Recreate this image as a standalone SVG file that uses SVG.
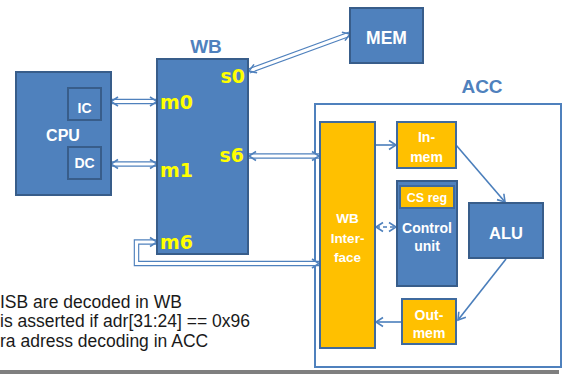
<svg xmlns="http://www.w3.org/2000/svg" width="563" height="374" viewBox="0 0 563 374">
<style>
.blue{fill:#4F81BD;stroke:#385D8A;stroke-width:2}
.org{fill:#FFC000;stroke:#3F6A9E;stroke-width:2}
.wt{font-family:"Liberation Sans",Arial,sans-serif;font-weight:bold;fill:#FFFFFF;text-anchor:middle}
.yl{font-family:"DejaVu Sans",sans-serif;font-weight:bold;fill:#FFFF00;font-size:19px}
.bl{font-family:"Liberation Sans",Arial,sans-serif;font-weight:bold;fill:#4F81BD;font-size:19px;text-anchor:middle}
.note{font-family:"Liberation Sans",Arial,sans-serif;fill:#1a1a1a;font-size:17.5px}
.dblo{fill:none;stroke:#4F81BD;stroke-width:5.5}
.dbli{fill:none;stroke:#FFFFFF;stroke-width:3.2}
.sl{fill:none;stroke:#4A7EBB;stroke-width:1.6}
</style>
<defs>
<marker id="chev" markerUnits="userSpaceOnUse" markerWidth="14" markerHeight="14" viewBox="-10 -7 14 14" refX="0" refY="0" orient="auto-start-reverse">
<path d="M-7,-4.5 L0,0 L-7,4.5" fill="none" stroke="#4F81BD" stroke-width="1.6"/>
</marker>
</defs>
<rect x="0" y="0" width="563" height="374" fill="#FFFFFF"/>

<g id="acc">
<rect x="315" y="104" width="246" height="263" fill="#FFFFFF" stroke="#4F81BD" stroke-width="2"/>
<text class="bl" x="482" y="93">ACC</text>
</g>

<g id="connectors">
<path class="dblo" d="M111,101.5 H157"/>
<path class="dbli" d="M111,101.5 H157" marker-start="url(#chev)" marker-end="url(#chev)"/>
<path class="dblo" d="M111,164 H157"/>
<path class="dbli" d="M111,164 H157" marker-start="url(#chev)" marker-end="url(#chev)"/>
<path class="dblo" d="M249,71 L350,34"/>
<path class="dbli" d="M249,71 L350,34" marker-start="url(#chev)" marker-end="url(#chev)"/>
<path class="dblo" d="M249,156 H319"/>
<path class="dbli" d="M249,156 H319" marker-start="url(#chev)" marker-end="url(#chev)"/>
<path class="dblo" d="M157,242 H136.5 V263.5 H319"/>
<path class="dbli" d="M157,242 H136.5 V263.5 H319" marker-start="url(#chev)" marker-end="url(#chev)"/>
<path class="sl" d="M375,145 H396" marker-end="url(#chev)"/>
<path class="sl" d="M456,145 L505,202" marker-end="url(#chev)"/>
<path class="sl" d="M506,259 L458,320" marker-end="url(#chev)"/>
<path class="sl" d="M402,322 H376" marker-end="url(#chev)"/>
<path class="sl" d="M376,227 H396" stroke-dasharray="4,3" marker-start="url(#chev)" marker-end="url(#chev)"/>
</g>

<g id="cpu">
<rect class="blue" x="16" y="72" width="95" height="123"/>
<text class="wt" x="63" y="141" font-size="16">CPU</text>
</g>
<g id="ic">
<rect class="blue" x="68" y="88" width="33" height="32"/>
<text class="wt" x="84.5" y="113" font-size="14">IC</text>
</g>
<g id="dc">
<rect class="blue" x="68" y="147" width="33" height="32"/>
<text class="wt" x="84.5" y="168" font-size="14">DC</text>
</g>

<g id="wb">
<rect class="blue" x="157" y="59" width="91" height="195"/>
<text class="bl" x="206" y="53" font-size="20">WB</text>
<text class="yl" x="160" y="109">m0</text>
<text class="yl" x="160" y="177">m1</text>
<text class="yl" x="160" y="249">m6</text>
<text class="yl" x="245" y="83" text-anchor="end">s0</text>
<text class="yl" x="244" y="162" text-anchor="end">s6</text>
</g>

<g id="mem">
<rect class="blue" x="350" y="8" width="73" height="55"/>
<text class="wt" x="386.5" y="44" font-size="17.5">MEM</text>
</g>

<g id="wbif">
<rect class="org" x="320" y="122" width="55" height="226"/>
<text class="wt" x="347.5" y="223" font-size="13.5">WB</text>
<text class="wt" x="347.5" y="243" font-size="13.5">Inter-</text>
<text class="wt" x="347.5" y="262" font-size="13.5">face</text>
</g>

<g id="inmem">
<rect class="org" x="397" y="122" width="59" height="46"/>
<text class="wt" x="426.5" y="142" font-size="14">In-</text>
<text class="wt" x="426.5" y="161.5" font-size="14">mem</text>
</g>

<g id="control">
<rect class="blue" x="397" y="181" width="60" height="105"/>
<text class="wt" x="427" y="233" font-size="14">Control</text>
<text class="wt" x="427" y="251" font-size="14">unit</text>
</g>
<g id="csreg">
<rect class="org" x="400" y="186" width="54" height="22"/>
<text class="wt" x="427" y="202" font-size="12.5">CS reg</text>
</g>

<g id="alu">
<rect class="blue" x="469" y="203" width="74" height="55"/>
<text class="wt" x="506" y="239" font-size="16.5">ALU</text>
</g>

<g id="outmem">
<rect class="org" x="402" y="299" width="54" height="45"/>
<text class="wt" x="429" y="320" font-size="14">Out-</text>
<text class="wt" x="429" y="338" font-size="14">mem</text>
</g>

<g id="notes">
<text class="note" x="0" y="308">ISB are decoded in WB</text>
<text class="note" x="0" y="327">is asserted if adr[31:24] == 0x96</text>
<text class="note" x="0" y="347">ra adress decoding in ACC</text>
</g>
<rect x="0" y="370" width="559" height="4" fill="#7F7F7F"/>
</svg>
